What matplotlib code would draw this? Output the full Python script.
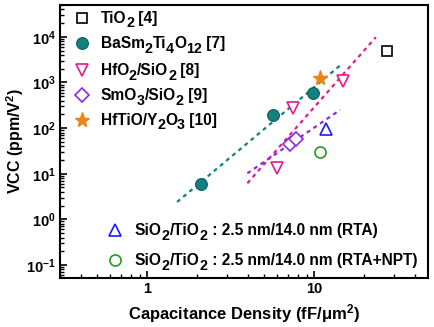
import numpy as np
import matplotlib
matplotlib.use("Agg")
import matplotlib.pyplot as plt
from matplotlib.ticker import FuncFormatter

plt.rcParams['font.family'] = ['Liberation Sans', 'DejaVu Sans']
plt.rcParams['font.weight'] = 'bold'
plt.rcParams['mathtext.default'] = 'regular'

# reference data
tio2_x = [27.3]
tio2_y = [5000]
basm_x = [2.1, 5.7, 9.8]
basm_y = [5.9, 195, 580]
hfo2_x = [6.0, 7.5, 14.8]
hfo2_y = [13.2, 280, 1080]
smo3_x = [7.2, 7.8]
smo3_y = [45, 57]
hftio_x = [10.9]
hftio_y = [1240]
rta_x = [11.8]
rta_y = [95]
npt_x = [10.9]
npt_y = [30]

# dashed trend lines (end points)
fit_basm_x = [1.51, 14.3]
fit_basm_y = [2.4, 2350]
fit_hfo2_x = [3.98, 23.4]
fit_hfo2_y = [6.2, 9800]
fit_smo3_x = [3.98, 14.3]
fit_smo3_y = [10.2, 250]

# legend labels, "_" marks a subscript chunk
labels_top = [
    ['TiO', '_2', ' [4]'],
    ['BaSm', '_2', 'Ti', '_4', 'O', '_12', ' [7]'],
    ['HfO', '_2', '/SiO', '_2', ' [8]'],
    ['SmO', '_3', '/SiO', '_2', ' [9]'],
    ['HfTiO/Y', '_2', 'O', '_3', ' [10]'],
]
labels_bottom = [
    ['SiO', '_2', '/TiO', '_2', ' : 2.5 nm/14.0 nm (RTA)'],
    ['SiO', '_2', '/TiO', '_2', ' : 2.5 nm/14.0 nm (RTA+NPT)'],
]

teal = '#14807f'
pink = '#e8198b'
purple = '#8a2be2'
orange = '#e8861a'
blue = '#1a1aff'
green = '#239b23'

styles = [
    dict(marker='s', ms=7, mfc='white', mec='black', mew=1.2),
    dict(marker='o', ms=8.5, mfc=teal, mec='#0d5f5e', mew=0.8),
    dict(marker='v', ms=9, mfc='white', mec=pink, mew=1.2),
    dict(marker='D', ms=7, mfc='white', mec=purple, mew=1.2),
    dict(marker='*', ms=11, mfc=orange, mec=orange, mew=1),
    dict(marker='^', ms=9, mfc='white', mec=blue, mew=1.2),
    dict(marker='o', ms=8, mfc='white', mec=green, mew=1.2),
]

fig = plt.figure(figsize=(4.34, 3.27), dpi=100)
ax = fig.add_axes([0.138, 0.150, 0.848, 0.835])

dash = dict(ls='--', lw=1.6, dashes=(1.8, 1.8))
ax.plot(fit_basm_x, fit_basm_y, color=teal, **dash)
ax.plot(fit_hfo2_x, fit_hfo2_y, color=pink, **dash)
ax.plot(fit_smo3_x, fit_smo3_y, color=purple, **dash)

series = [(tio2_x, tio2_y), (basm_x, basm_y), (hfo2_x, hfo2_y), (smo3_x, smo3_y),
          (hftio_x, hftio_y), (rta_x, rta_y), (npt_x, npt_y)]
for (sx, sy), st in zip(series, styles):
    ax.plot(sx, sy, ls='none', **st)

ax.set_xscale('log')
ax.set_yscale('log')
ax.set_xlim(0.3, 48)
ax.set_ylim(0.052, 5e4)

ax.tick_params(which='both', direction='in', top=False, right=False, labelsize=10.5)
ax.tick_params(which='major', length=5, width=1.2, pad=3)
ax.tick_params(which='minor', length=3, width=1)
for s in ax.spines.values():
    s.set_linewidth(1.5)
ax.xaxis.set_major_formatter(FuncFormatter(lambda v, p: f'{v:g}'))

ax.set_xlabel('Capacitance Density (fF/μm$^2$)', fontsize=12, fontweight='bold', labelpad=4)
ax.set_ylabel('VCC (ppm/V$^2$)', fontsize=11.5, fontweight='bold')
ax.yaxis.set_label_coords(-0.092, 0.5)


def draw_label(x, y, parts, size=11.2):
    # write text chunk by chunk so subscripts stay near full size
    prev = ax.text(x, y, '', transform=ax.transAxes, fontsize=size,
                   fontweight='bold', va='baseline', ha='left')
    for p in parts:
        sub = p.startswith('_')
        txt = p[1:] if sub else p
        prev = ax.annotate(txt, xy=(1, y), xycoords=(prev, 'axes fraction'),
                           xytext=(0, -3.2 if sub else 0), textcoords='offset points',
                           fontsize=size * 0.92 if sub else size, fontweight='bold',
                           va='baseline', ha='left')


def draw_entry(mx, tx, y, st, parts):
    ax.plot([mx], [y], transform=ax.transAxes, clip_on=False, ls='none', **st)
    draw_label(tx, y - 0.019, parts)


rows_top = [0.953, 0.860, 0.762, 0.670, 0.579]
for y, st, parts in zip(rows_top, styles[:5], labels_top):
    draw_entry(0.060, 0.111, y, st, parts)

rows_bottom = [0.176, 0.066]
for y, st, parts in zip(rows_bottom, styles[5:], labels_bottom):
    draw_entry(0.149, 0.204, y, st, parts)

fig.savefig('out.png', dpi=100)
